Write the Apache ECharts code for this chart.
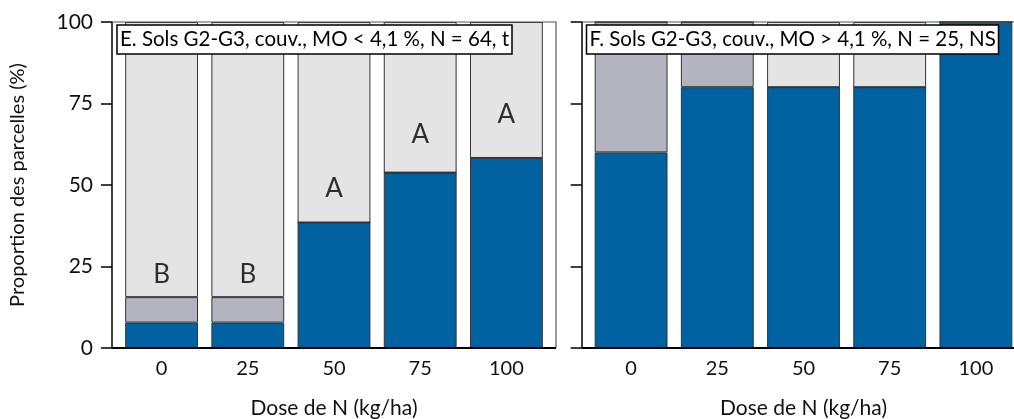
<!DOCTYPE html>
<html>
<head>
<meta charset="utf-8">
<script src="https://cdn.jsdelivr.net/npm/echarts@6/dist/echarts.min.js"></script>
<style>
html,body{margin:0;padding:0;background:#fff;}
#main{width:1014px;height:419px;}
</style>
</head>
<body>
<div id="main"></div>
<script>
// ---- data ----
var doses = ['0', '25', '50', '75', '100'];
var yTicks = [0, 25, 50, 75, 100];

var E_title = 'E. Sols G2-G3, couv., MO < 4,1 %, N = 64, t';
var E_blue  = [7.8, 7.8, 38.5, 53.8, 58.3];
var E_gray  = [7.8, 7.8, 0, 0, 0];
var E_light = [84.4, 84.4, 61.5, 46.2, 41.7];
var E_letters = ['B', 'B', 'A', 'A', 'A'];
var E_letterY = [22.5, 22.5, 49, 65.5, 71.5];

var F_title = 'F. Sols G2-G3, couv., MO > 4,1 %, N = 25, NS';
var F_blue  = [60, 80, 80, 80, 100];
var F_gray  = [40, 20, 0, 0, 0];
var F_light = [0, 0, 20, 20, 0];

var xName = 'Dose de N (kg/ha)';
var yName = 'Proportion des parcelles (%)';

// ---- style / layout ----
var FONT = 'Lato';
var C_BLUE = '#0062A0', C_GRAY = '#B4B4C1', C_LIGHT = '#E4E4E4', C_EDGE = '#333333';
var TOP = 22, BOTTOM = 348;
var panels = [
  {axisX: 112, frameR: 556, barL: 118.5, barW: 431},
  {axisX: 581.7, frameR: 1025, barL: 588, barW: 431}
];

var chart = echarts.init(document.getElementById('main'), null, {renderer: 'canvas'});

var grids = [], xAxes = [], yAxes = [], series = [], graphics = [];
var sets = [
  {blue: E_blue, gray: E_gray, light: E_light, letters: E_letters, letterY: E_letterY, title: E_title},
  {blue: F_blue, gray: F_gray, light: F_light, letters: null, letterY: null, title: F_title}
];

panels.forEach(function (p, i) {
  grids.push({left: p.barL, top: TOP, width: p.barW, height: BOTTOM - TOP,
    containLabel: false, outerBoundsMode: 'none'});
  xAxes.push({
    type: 'category', gridIndex: i, data: doses,
    axisLine: {show: false}, axisTick: {show: false},
    axisLabel: {fontFamily: FONT, fontSize: 20, color: '#111', margin: 11},
    name: xName, nameLocation: 'middle', nameGap: 50,
    nameTextStyle: {fontFamily: FONT, fontSize: 21, color: '#111'}
  });
  yAxes.push({
    type: 'value', gridIndex: i, min: 0, max: 100, interval: 25,
    offset: p.barL - p.axisX,
    axisLine: {show: true, lineStyle: {color: '#000', width: 1.5}},
    axisTick: {show: true, length: 11, lineStyle: {color: '#000', width: 1.5}},
    axisLabel: {show: i === 0, fontFamily: FONT, fontSize: 21, color: '#111', margin: 19},
    splitLine: {show: false},
    name: i === 0 ? yName : '', nameLocation: 'middle', nameGap: 84,
    nameTextStyle: {fontFamily: FONT, fontSize: 20, color: '#111'}
  });
  var s = sets[i];
  [['Segment 1', s.blue, C_BLUE], ['Segment 2', s.gray, C_GRAY], ['Segment 3', s.light, C_LIGHT]].forEach(function (d) {
    series.push({
      type: 'bar', name: d[0], xAxisIndex: i, yAxisIndex: i, stack: 'p' + i,
      data: d[1], barCategoryGap: '15.5%',
      itemStyle: {color: d[2], borderColor: C_EDGE, borderWidth: 1}
    });
  });
  if (s.letters) {
    series.push({
      type: 'scatter', xAxisIndex: i, yAxisIndex: i, symbolSize: 0, z: 5,
      data: s.letterY.map(function (v, k) { return {value: [k, v], name: s.letters[k]}; }),
      label: {show: true, position: 'inside', formatter: '{b}', fontFamily: FONT, fontSize: 26, color: '#000'}
    });
  }
  // frame: top and right edges, bottom line
  graphics.push({type: 'polyline', z: 10, shape: {points: [[p.axisX, TOP], [p.frameR, TOP], [p.frameR, BOTTOM]]},
    style: {fill: null, stroke: '#555', lineWidth: 1.2}});
  graphics.push({type: 'line', z: 10, shape: {x1: p.axisX, y1: BOTTOM, x2: p.frameR, y2: BOTTOM},
    style: {stroke: '#000', lineWidth: 2}});
});

var titles = [
  {text: E_title, left: 117, top: 25},
  {text: F_title, left: 586.5, top: 25}
].map(function (t) {
  return {
    text: t.text, left: t.left, top: t.top, padding: [4, 3, 4, 3],
    backgroundColor: '#fff', borderColor: '#000', borderWidth: 1.5,
    textStyle: {fontFamily: FONT, fontSize: 20.5, fontWeight: 'normal', color: '#000'}
  };
});

chart.setOption({
  animation: false,
  backgroundColor: '#fff',
  title: titles,
  grid: grids,
  xAxis: xAxes,
  yAxis: yAxes,
  series: series,
  graphic: graphics
});
</script>
</body>
</html>
